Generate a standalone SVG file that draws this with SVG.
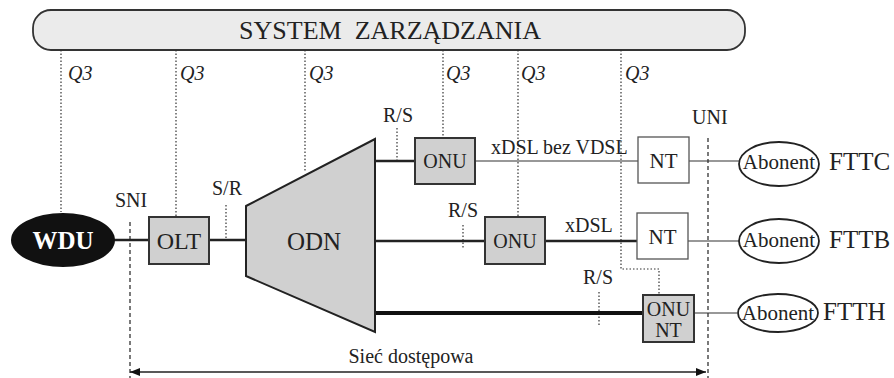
<svg xmlns="http://www.w3.org/2000/svg" width="894" height="378" viewBox="0 0 894 378" font-family="'Liberation Serif', serif">
<defs>
<style>
text{font-family:"Liberation Serif","Times New Roman",serif;fill:#222}
.lbl{font-size:20px}
.q{font-size:20px;font-style:italic}
.box{fill:#d0d0d0;stroke:#333;stroke-width:2}
.nt{fill:#fff;stroke:#555;stroke-width:1.3}
.ab{fill:#fff;stroke:#222;stroke-width:1.8}
.dot{stroke:#333;stroke-width:1.2;stroke-dasharray:1.5 2;fill:none}
.dash{stroke:#333;stroke-width:1.3;stroke-dasharray:4 3;fill:none}
.thin{stroke:#333;stroke-width:1.2;fill:none}
.med{stroke:#222;stroke-width:2.6;fill:none}
.thick{stroke:#111;stroke-width:4;fill:none}
</style>
<marker id="ah" viewBox="0 0 10 10" refX="10" refY="5" markerWidth="10" markerHeight="10" markerUnits="userSpaceOnUse" orient="auto-start-reverse">
<path d="M0,1 L10,5 L0,9 z" fill="#111"/>
</marker>
</defs>
<rect width="894" height="378" fill="#fff"/>

<g id="system">
<rect x="33" y="10" width="712" height="40" rx="18" ry="18" fill="#ebebeb" stroke="#333" stroke-width="1.8"/>
<text x="390" y="39" font-size="26" text-anchor="middle">SYSTEM&#160; ZARZĄDZANIA</text>
</g>

<g id="connectors">
<path class="dot" d="M61,50 V212"/>
<path class="dot" d="M176,50 V218"/>
<path class="dot" d="M305,50 V172"/>
<path class="dot" d="M443,50 V138"/>
<path class="dot" d="M518,50 V217"/>
<path class="dot" d="M621,50 V269 H659 V295"/>
<path class="dash" d="M130,222 V378"/>
<path class="dash" d="M708,138 V378"/>
<path class="dot" d="M226,205 V240"/>
<path class="dot" d="M397,128 V163"/>
<path class="dot" d="M463,225 V249"/>
<path class="dot" d="M599,292 V327"/>
<path class="med" d="M112,240 H149"/>
<path class="med" d="M209,240 H246"/>
<path class="med" d="M375,161 H415"/>
<path class="thin" d="M475,161 H638"/>
<path class="thin" d="M689,161 H739"/>
<path class="med" d="M375,241 H485"/>
<path class="med" d="M545,241 H637"/>
<path class="thin" d="M688,241 H739"/>
<path class="thick" d="M375,313 H643"/>
<path class="thin" d="M694,313 H737"/>
<path d="M130,372 H706" stroke="#222" stroke-width="1.3" fill="none" marker-start="url(#ah)" marker-end="url(#ah)"/>
</g>

<g id="labels">
<text class="q" x="68" y="80">Q3</text>
<text class="q" x="180" y="80">Q3</text>
<text class="q" x="309" y="80">Q3</text>
<text class="q" x="446" y="80">Q3</text>
<text class="q" x="521" y="80">Q3</text>
<text class="q" x="625" y="80">Q3</text>
<text class="lbl" x="115" y="207">SNI</text>
<text class="lbl" x="212" y="195">S/R</text>
<text class="lbl" x="383" y="122">R/S</text>
<text class="lbl" x="448" y="217">R/S</text>
<text class="lbl" x="583" y="284">R/S</text>
<text class="lbl" x="692" y="124">UNI</text>
<text class="lbl" x="491" y="154">xDSL bez VDSL</text>
<text class="lbl" x="565" y="232">xDSL</text>
<text class="lbl" x="411" y="363" text-anchor="middle">Sieć dostępowa</text>
<text x="829" y="170" font-size="25">FTTC</text>
<text x="829" y="248" font-size="25">FTTB</text>
<text x="823" y="320" font-size="25">FTTH</text>
</g>

<g id="wdu">
<ellipse cx="63" cy="240" rx="52" ry="27" fill="#111"/>
<text x="63" y="249" font-size="25" font-weight="bold" text-anchor="middle" style="fill:#fff">WDU</text>
</g>

<g id="olt">
<rect class="box" x="149" y="217" width="60" height="47"/>
<text x="179" y="249" font-size="24" text-anchor="middle">OLT</text>
</g>

<g id="odn">
<polygon points="246,206 375,139 375,332 246,276" fill="#d0d0d0" stroke="#222" stroke-width="2"/>
<text x="314" y="250" font-size="25" text-anchor="middle">ODN</text>
</g>

<g id="onu1">
<rect class="box" x="415" y="138" width="60" height="46"/>
<text x="445" y="168" font-size="20" text-anchor="middle">ONU</text>
</g>

<g id="onu2">
<rect class="box" x="485" y="217" width="60" height="47"/>
<text x="515" y="248" font-size="20" text-anchor="middle">ONU</text>
</g>

<g id="onunt">
<rect class="box" x="643" y="295" width="51" height="47"/>
<text x="668.5" y="316" font-size="20" text-anchor="middle">ONU</text>
<text x="668.5" y="337" font-size="20" text-anchor="middle">NT</text>
</g>

<g id="nt1">
<rect class="nt" x="638" y="137" width="51" height="46"/>
<text x="663.5" y="168" font-size="21" text-anchor="middle">NT</text>
</g>

<g id="nt2">
<rect class="nt" x="637" y="213" width="51" height="46"/>
<text x="662.5" y="244" font-size="21" text-anchor="middle">NT</text>
</g>

<g id="abonent1">
<ellipse class="ab" cx="779" cy="164" rx="40" ry="22"/>
<text x="779" y="169" font-size="21" text-anchor="middle">Abonent</text>
</g>

<g id="abonent2">
<ellipse class="ab" cx="779" cy="241" rx="40" ry="22"/>
<text x="779" y="247" font-size="21" text-anchor="middle">Abonent</text>
</g>

<g id="abonent3">
<ellipse class="ab" cx="778" cy="313" rx="40" ry="19"/>
<text x="778" y="320" font-size="21" text-anchor="middle">Abonent</text>
</g>
</svg>
